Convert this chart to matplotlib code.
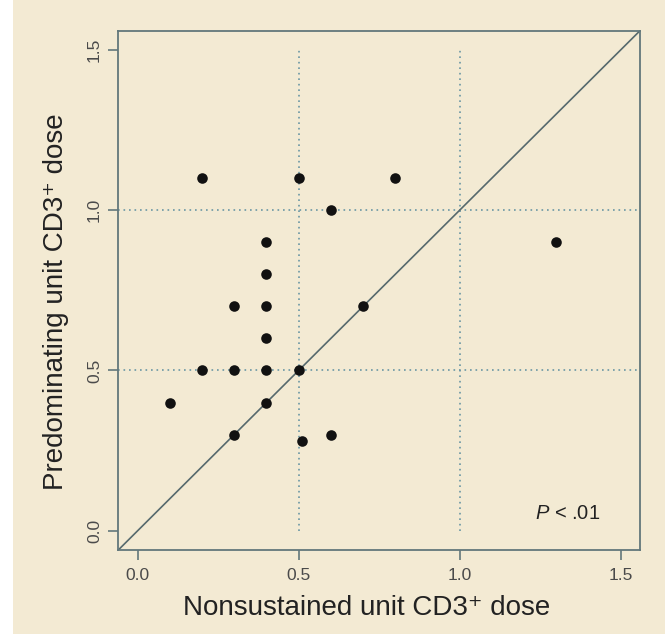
import matplotlib
matplotlib.use("Agg")
import matplotlib.pyplot as plt
from matplotlib.patches import Rectangle

plt.rcParams['font.family'] = ['Liberation Sans', 'DejaVu Sans']
plt.rcParams['mathtext.fontset'] = 'custom'
plt.rcParams['mathtext.it'] = 'Liberation Sans:italic'
plt.rcParams['mathtext.rm'] = 'Liberation Sans'

# nonsustained vs predominating unit CD3+ dose
nonsustained = [0.2, 0.5, 0.8, 0.6, 1.3, 0.4, 0.4, 0.3, 0.4, 0.7,
                0.4, 0.2, 0.3, 0.4, 0.5, 0.1, 0.4, 0.3, 0.6, 0.51]
predominating = [1.1, 1.1, 1.1, 1.0, 0.9, 0.9, 0.8, 0.7, 0.7, 0.7,
                 0.6, 0.5, 0.5, 0.5, 0.5, 0.4, 0.4, 0.3, 0.3, 0.28]
ticks = [0.0, 0.5, 1.0, 1.5]
tick_labels = ["0.0", "0.5", "1.0", "1.5"]
ref_lines = [0.5, 1.0]

bg = "#f3ead3"
box_col = "#62777b"
dot_col = "#6a96a4"

fig = plt.figure(figsize=(6.65, 6.34), dpi=100, facecolor=bg)
fig.patches.append(Rectangle((0, 0), 12.7 / 665, 1, transform=fig.transFigure,
                             facecolor="white", edgecolor="none", zorder=-1))
ax = fig.add_axes([118.3 / 665, 1 - 550 / 634, (640 - 118.3) / 665, (550 - 30.7) / 634])
ax.set_facecolor(bg)

lo, hi = -0.06, 1.56
ax.set_xlim(lo, hi)
ax.set_ylim(lo, hi)

for v in ref_lines:
    ax.axhline(v, color=dot_col, lw=1.2, ls=(0, (1, 2.3)), zorder=1)
    ax.plot([v, v], [0, 1.5], color=dot_col, lw=1.2, ls=(0, (1, 2.3)), zorder=1)

ax.plot([lo, hi], [lo, hi], color="#56696d", lw=1.2, zorder=2)
ax.scatter(nonsustained, predominating, s=58, color="#111111", zorder=3, linewidths=0)

for s in ax.spines.values():
    s.set_color(box_col)
    s.set_linewidth(1.3)

ax.set_xticks(ticks)
ax.set_xticklabels(tick_labels)
ax.set_yticks(ticks)
ax.set_yticklabels(tick_labels, rotation=90, va="center")
ax.tick_params(axis="both", direction="out", length=7.2, width=1.2, color=box_col,
               labelsize=12.5, labelcolor="#4a4a4a")
ax.tick_params(axis="x", pad=5.5)
ax.tick_params(axis="y", pad=4.5)

fig.text(366.5 / 665, 1 - 615 / 634, "Nonsustained unit CD3\u207a dose",
         ha="center", va="baseline", fontsize=20, color="#222222")
fig.text(63 / 665, 1 - 302 / 634, "Predominating unit CD3\u207a dose",
         ha="center", va="baseline", rotation=90, rotation_mode="anchor",
         fontsize=20, color="#222222")
fig.text(600 / 665, 1 - 519 / 634, "$P$ < .01", ha="right", va="baseline",
         fontsize=14.5, color="#222222")

fig.savefig("out.png", dpi=100, facecolor=bg)
